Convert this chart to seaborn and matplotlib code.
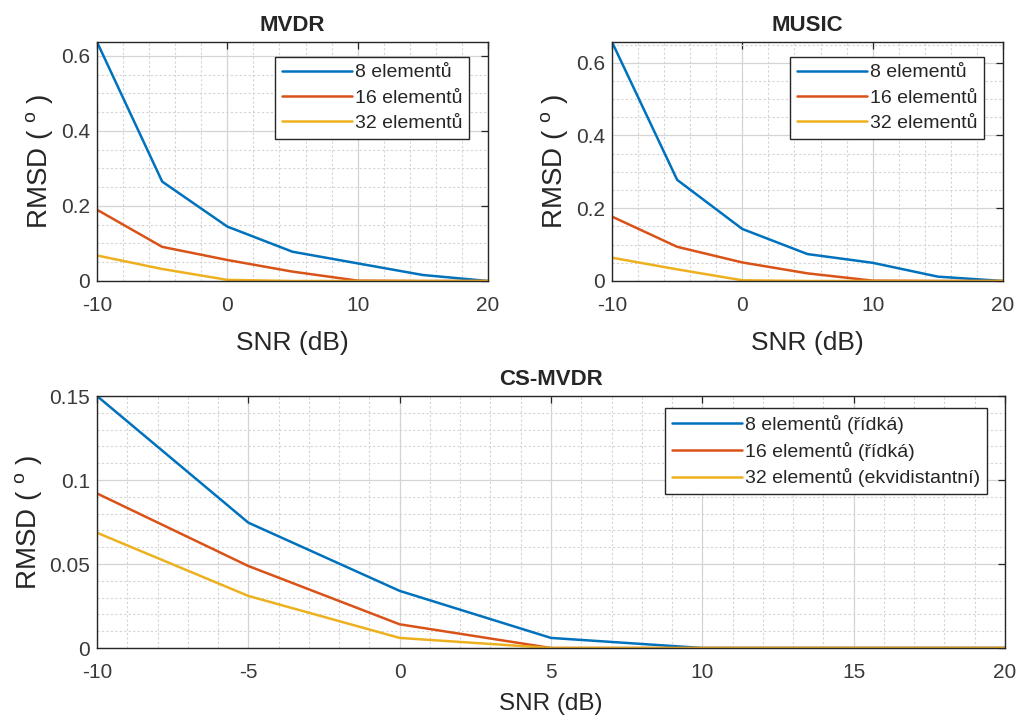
import matplotlib
matplotlib.use("Agg")
import matplotlib.pyplot as plt
import seaborn as sns
import pandas as pd
from matplotlib.ticker import MultipleLocator

snr = [-10, -5, 0, 5, 10, 15, 20]

mvdr_8 = [0.637, 0.265, 0.145, 0.078, 0.047, 0.016, 0.0]
mvdr_16 = [0.190, 0.091, 0.056, 0.025, 0.001, 0.0, 0.0]
mvdr_32 = [0.068, 0.032, 0.003, 0.0, 0.0, 0.0, 0.0]

music_8 = [0.657, 0.278, 0.143, 0.074, 0.050, 0.012, 0.0]
music_16 = [0.177, 0.094, 0.051, 0.021, 0.001, 0.0, 0.0]
music_32 = [0.064, 0.032, 0.002, 0.0, 0.0, 0.0, 0.0]

cs_8 = [0.150, 0.0746, 0.034, 0.006, 0.0, 0.0, 0.0]
cs_16 = [0.092, 0.0488, 0.0141, 0.0, 0.0, 0.0, 0.0]
cs_32 = [0.0686, 0.031, 0.006, 0.0, 0.0, 0.0, 0.0]

labels_top = ["8 elementů", "16 elementů", "32 elementů"]
labels_cs = ["8 elementů (řídká)", "16 elementů (řídká)", "32 elementů (ekvidistantní)"]
colors = ["#0072BD", "#D95319", "#EDB120"]

sns.set_style("white")
plt.rcParams["font.family"] = ["Liberation Sans", "DejaVu Sans"]
plt.rcParams["mathtext.fontset"] = "custom"
plt.rcParams["mathtext.rm"] = "Liberation Sans"
plt.rcParams["mathtext.it"] = "Liberation Sans"


def long_df(series, labels):
    rows = []
    for vals, lab in zip(series, labels):
        for x, y in zip(snr, vals):
            rows.append({"SNR": x, "RMSD": y, "series": lab})
    return pd.DataFrame(rows)


fig = plt.figure(figsize=(10.2, 7.2), dpi=100)
W, H = 1020, 720


def add_ax(x0, y0, x1, y1):
    return fig.add_axes([x0 / W, 1 - y1 / H, (x1 - x0) / W, (y1 - y0) / H])


ax1 = add_ax(97, 42, 488, 281)
ax2 = add_ax(612, 42, 1003, 281)
ax3 = add_ax(97, 396, 1005, 648)

panels = [
    (ax1, "MVDR", [mvdr_8, mvdr_16, mvdr_32], labels_top, 0.637, [0, 0.2, 0.4, 0.6], 0.05, 2, (0.951, 0.937), 19, 11),
    (ax2, "MUSIC", [music_8, music_16, music_32], labels_top, 0.657, [0, 0.2, 0.4, 0.6], 0.05, 2, (0.951, 0.937), 19, 11),
    (ax3, "CS-MVDR", [cs_8, cs_16, cs_32], labels_cs, 0.15, [0, 0.05, 0.1, 0.15], 0.01, 1, (0.98, 0.952), 17.5, 8),
]

for ax, title, series, labels, ymax, yt, yminor, xminor, anchor, xlfs, xlpad in panels:
    df = long_df(series, labels)
    sns.lineplot(data=df, x="SNR", y="RMSD", hue="series", palette=colors,
                 hue_order=labels, ax=ax, linewidth=1.8, legend=True)
    ax.set_xlim(-10, 20)
    ax.set_ylim(0, ymax)
    if ax is ax3:
        ax.set_xticks([-10, -5, 0, 5, 10, 15, 20])
        ax.set_xticklabels(["-10", "-5", "0", "5", "10", "15", "20"])
    else:
        ax.set_xticks([-10, 0, 10, 20])
        ax.set_xticklabels(["-10", "0", "10", "20"])
    ax.set_yticks(yt)
    ax.set_yticklabels([("%g" % v) for v in yt])
    ax.xaxis.set_minor_locator(MultipleLocator(xminor))
    ax.yaxis.set_minor_locator(MultipleLocator(yminor))
    ax.grid(True, which="major", color="#d4d4d4", linewidth=0.9, linestyle="-")
    ax.grid(True, which="minor", color="#d4d4d4", linewidth=0.8, linestyle=(0, (2, 2)))
    ax.set_axisbelow(True)
    ax.tick_params(axis="x", which="major", pad=11)
    ax.tick_params(axis="y", which="major", pad=5)
    ax.tick_params(axis="both", which="major", direction="in", length=5, width=0.9,
                   top=True, right=True, labelsize=15, colors="#262626",
                   labelcolor="#3a3a3a")
    ax.tick_params(axis="both", which="minor", length=0)
    for s in ax.spines.values():
        s.set_color("#262626")
        s.set_linewidth(1.0)
        s.set_visible(True)
    ax.set_title(title, fontsize=16, fontweight="bold", pad=8)
    ax.set_xlabel("SNR (dB)", fontsize=xlfs, color="#262626", labelpad=xlpad)
    ax.set_ylabel(r"RMSD ( $^{\mathrm{o}}$ )", fontsize=20, color="#262626", labelpad=4)
    handles, labs = ax.get_legend_handles_labels()
    leg = ax.legend(handles, labs, loc="upper right", bbox_to_anchor=anchor,
                    fontsize=14, frameon=True, fancybox=False, framealpha=1,
                    edgecolor="#262626", handlelength=3.6, borderpad=0.35,
                    labelspacing=0.4, handletextpad=0.15, borderaxespad=0)
    leg.get_frame().set_linewidth(1.0)
    for t in leg.get_texts():
        t.set_color("#262626")

fig.savefig("out.png", dpi=100)
